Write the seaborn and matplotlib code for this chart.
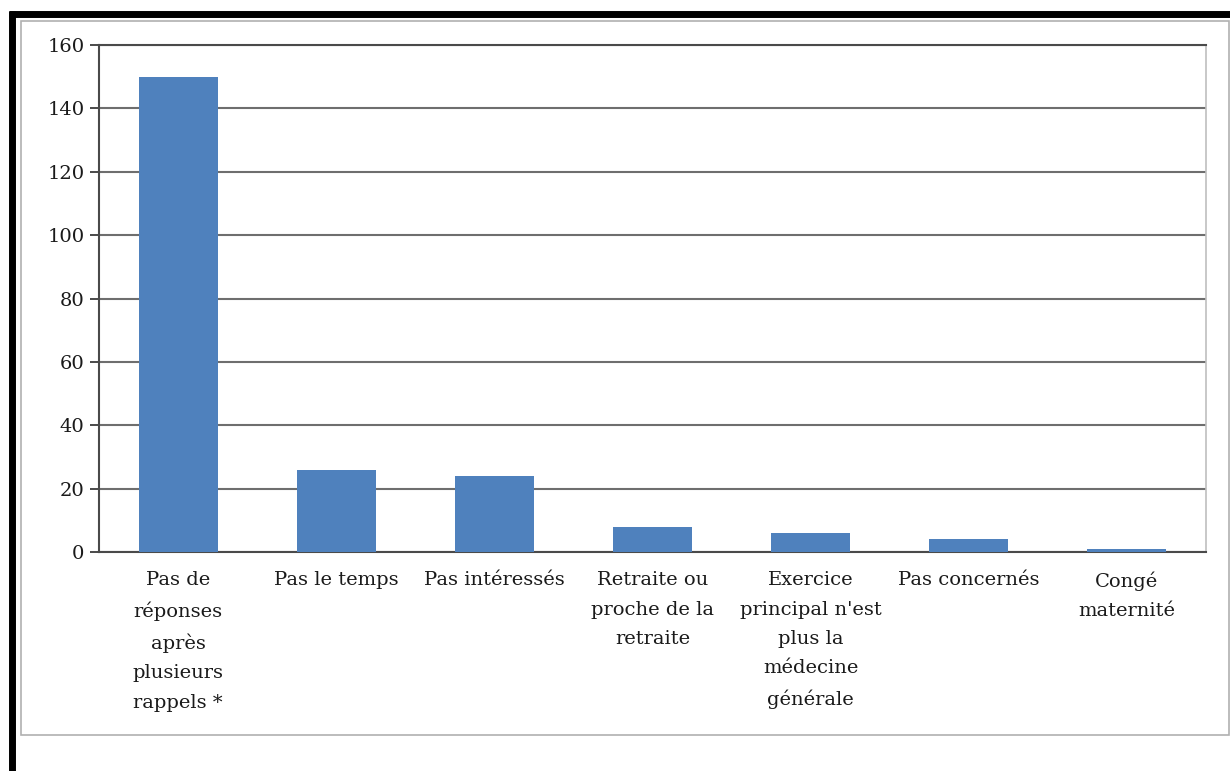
import numpy as np
import pandas as pd
import matplotlib
matplotlib.use("Agg")
import matplotlib.pyplot as plt
import seaborn as sns
from matplotlib.lines import Line2D
from matplotlib.patches import Rectangle

# Données
raisons = [
    "Pas de\nréponses\naprès\nplusieurs\nrappels *",
    "Pas le temps",
    "Pas intéressés",
    "Retraite ou\nproche de la\nretraite",
    "Exercice\nprincipal n'est\nplus la\nmédecine\ngénérale",
    "Pas concernés",
    "Congé\nmaternité",
]
effectifs = [150, 26, 24, 8, 6, 4, 1]
graduations = [0, 20, 40, 60, 80, 100, 120, 140, 160]

df = pd.DataFrame({"raison": raisons, "n": effectifs})

sns.set_theme(style="white")
plt.rcParams["font.family"] = ["DejaVu Serif"]

fig = plt.figure(figsize=(12.3, 7.71), dpi=100)
ax = fig.add_axes([99 / 1230, 1 - 552 / 771, (1206 - 99) / 1230, (552 - 45) / 771])

sns.barplot(data=df, x="raison", y="n", color="#4F81BD", saturation=1,
            width=0.5, linewidth=0, ax=ax, zorder=3)

ax.set_ylim(0, 160)
ax.set_xlim(-0.5, len(raisons) - 0.5)
ax.set_yticks(graduations)
ax.set_yticklabels([str(g) for g in graduations], fontsize=14, color="#1a1a1a")
ax.yaxis.grid(True, color="#6e6e6e", linewidth=1.5, zorder=0)
ax.set_axisbelow(True)

ax.set_xticks(range(len(raisons)))
ax.set_xticklabels(raisons, fontsize=14, color="#1a1a1a", linespacing=1.8,
                   va="top")
ax.set_xticks(np.arange(-0.5, len(raisons), 1.0), minor=True)
ax.tick_params(axis="x", which="major", length=0, pad=14)
ax.tick_params(axis="x", which="minor", length=8, width=1.4, color="#4a4a4a",
               direction="out")
ax.tick_params(axis="y", length=6.5, width=1.4, color="#4a4a4a", direction="out",
               pad=4, left=True)

ax.set_xlabel("")
ax.set_ylabel("")

for s in ["left", "bottom", "top"]:
    ax.spines[s].set_color("#4a4a4a")
    ax.spines[s].set_linewidth(1.5)
ax.spines["right"].set_color("#bfbfbf")
ax.spines["right"].set_linewidth(1.2)

# cadre extérieur
fig.add_artist(Rectangle((21 / 1230, 1 - 735 / 771), (1229 - 21) / 1230,
                         (735 - 21) / 771, transform=fig.transFigure,
                         fill=False, edgecolor="#b0b0b0", linewidth=1.2))
fig.add_artist(Line2D([9 / 1230, 1], [1 - 14 / 771, 1 - 14 / 771],
                      transform=fig.transFigure, color="black", linewidth=5,
                      solid_capstyle="butt"))
fig.add_artist(Line2D([12 / 1230, 12 / 1230], [1 - 11 / 771, 0],
                      transform=fig.transFigure, color="black", linewidth=5,
                      solid_capstyle="butt"))

fig.savefig("out.png", dpi=100)
